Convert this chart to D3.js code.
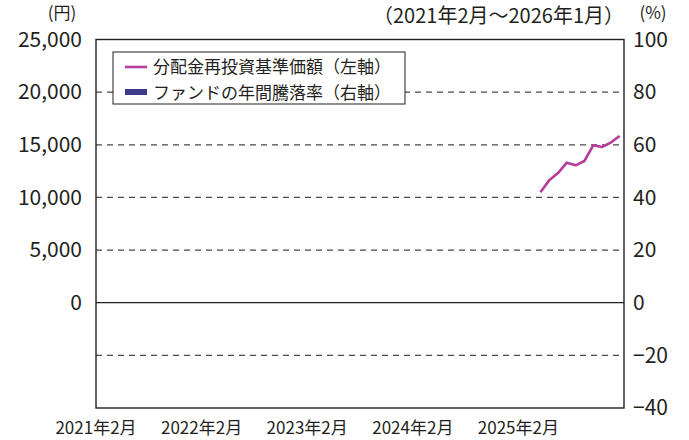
<!DOCTYPE html>
<html>
<head>
<meta charset="utf-8">
<script src="https://cdn.jsdelivr.net/npm/d3@7"></script>
<style>
  body { margin: 0; background: #fff; }
  svg text { font-family: "Noto Sans CJK JP", "Noto Sans", sans-serif; fill: #231f20; }
</style>
</head>
<body>
<div id="chart"></div>
<script>
// month slots: 2021年2月 .. 2026年1月 (60 months)
const startYear = 2021, startMonth = 2, nMonths = 60;

// 分配金再投資基準価額 (left axis, 円)
const navMonths = ['2025-04', '2025-05', '2025-06', '2025-07', '2025-08',
                   '2025-09', '2025-10', '2025-11', '2025-12', '2026-01'];
const navValues = [10500, 11620, 12310, 13300, 13050, 13460, 14950, 14790, 15210, 15840];

// ファンドの年間騰落率 (right axis, %) — no full year yet
const annualReturns = [];

const xTickLabels = ['2021年2月', '2022年2月', '2023年2月', '2024年2月', '2025年2月'];
const leftTicks = [0, 5000, 10000, 15000, 20000, 25000];
const rightTicks = [-40, -20, 0, 20, 40, 60, 80, 100];

const W = 689, H = 440;
const margin = { top: 39.5, right: 65, bottom: 32, left: 96 };
const width = W - margin.left - margin.right;
const height = H - margin.top - margin.bottom;

const monthIndex = s => {
  const [y, m] = s.split('-').map(Number);
  return (y - startYear) * 12 + (m - startMonth);
};

const svg = d3.select('#chart').append('svg')
  .attr('width', W).attr('height', H);

const g = svg.append('g')
  .attr('transform', `translate(${margin.left},${margin.top})`);

const xScale = d3.scaleLinear().domain([0, nMonths]).range([0, width]);
const yRight = d3.scaleLinear().domain([-40, 100]).range([height, 0]);
const yLeft = d3.scaleLinear().domain([-10000, 25000]).range([height, 0]);

// Grid (dashed) from right-axis ticks, zero line solid
g.append('g')
  .selectAll('line')
  .data(rightTicks.filter(d => d > -40 && d < 100))
  .join('line')
  .attr('x1', 0).attr('x2', width)
  .attr('y1', d => yRight(d)).attr('y2', d => yRight(d))
  .attr('stroke', d => d === 0 ? '#231f20' : '#4a4a4a')
  .attr('stroke-width', d => d === 0 ? 1.3 : 1.2)
  .attr('stroke-dasharray', d => d === 0 ? null : '6,5');

// Left axis labels
g.append('g')
  .call(d3.axisLeft(yLeft).tickValues(leftTicks).tickSize(0).tickPadding(14)
    .tickFormat(d3.format(',')))
  .call(a => a.select('.domain').remove())
  .selectAll('text')
  .attr('font-size', '21px')
  .attr('fill', '#231f20');

// Right axis labels
g.append('g')
  .attr('transform', `translate(${width},0)`)
  .call(d3.axisRight(yRight).tickValues(rightTicks).tickSize(0).tickPadding(9)
    .tickFormat(d => d < 0 ? '\u2212' + Math.abs(d) : d))
  .call(a => a.select('.domain').remove())
  .selectAll('text')
  .attr('font-size', '21px')
  .attr('fill', '#231f20');

// X labels
g.append('g')
  .selectAll('text')
  .data(xTickLabels)
  .join('text')
  .attr('x', (d, i) => xScale(i * 12))
  .attr('y', height + 26)
  .attr('text-anchor', 'middle')
  .attr('font-size', '17px')
  .text(d => d);

// Annual return bars (empty)
const bw = xScale(1) * 0.8;
g.selectAll('.bar')
  .data(annualReturns)
  .join('rect')
  .attr('class', 'bar')
  .attr('x', d => xScale(monthIndex(d.month) + 0.5) - bw / 2)
  .attr('y', d => yRight(Math.max(0, d.value)))
  .attr('width', bw)
  .attr('height', d => Math.abs(yRight(d.value) - yRight(0)))
  .attr('fill', '#3c3a8c');

// NAV line
const line = d3.line()
  .x((d, i) => xScale(monthIndex(navMonths[i]) + 0.5))
  .y(d => yLeft(d));

g.append('path')
  .datum(navValues)
  .attr('d', line)
  .attr('fill', 'none')
  .attr('stroke', '#b83c9c')
  .attr('stroke-width', 2.6)
  .attr('stroke-linejoin', 'round');

// Frame
g.append('rect')
  .attr('x', 0).attr('y', 0)
  .attr('width', width).attr('height', height)
  .attr('fill', 'none')
  .attr('stroke', '#231f20')
  .attr('stroke-width', 1.4);

// Legend
const legend = svg.append('g').attr('transform', 'translate(113,52)');
legend.append('rect')
  .attr('width', 292).attr('height', 52)
  .attr('fill', '#fff')
  .attr('stroke', '#231f20').attr('stroke-width', 1);
legend.append('line')
  .attr('x1', 12).attr('x2', 34).attr('y1', 15).attr('y2', 15)
  .attr('stroke', '#b83c9c').attr('stroke-width', 2.6);
legend.append('rect')
  .attr('x', 12).attr('y', 37).attr('width', 22).attr('height', 6)
  .attr('fill', '#3c3a8c');
legend.append('text')
  .attr('x', 40).attr('y', 21)
  .attr('font-size', '17px')
  .text('分配金再投資基準価額（左軸）');
legend.append('text')
  .attr('x', 40).attr('y', 47)
  .attr('font-size', '17px')
  .text('ファンドの年間騰落率（右軸）');

// Unit labels and period
svg.append('text')
  .attr('x', 62).attr('y', 19)
  .attr('text-anchor', 'middle')
  .attr('font-size', '17px')
  .text('(円)');
svg.append('text')
  .attr('x', 653).attr('y', 19)
  .attr('text-anchor', 'middle')
  .attr('font-size', '17px')
  .text('(%)');
svg.append('text')
  .attr('x', 624).attr('y', 23)
  .attr('text-anchor', 'end')
  .attr('font-size', '20px')
  .text('（2021年2月～2026年1月）');
</script>
</body>
</html>
